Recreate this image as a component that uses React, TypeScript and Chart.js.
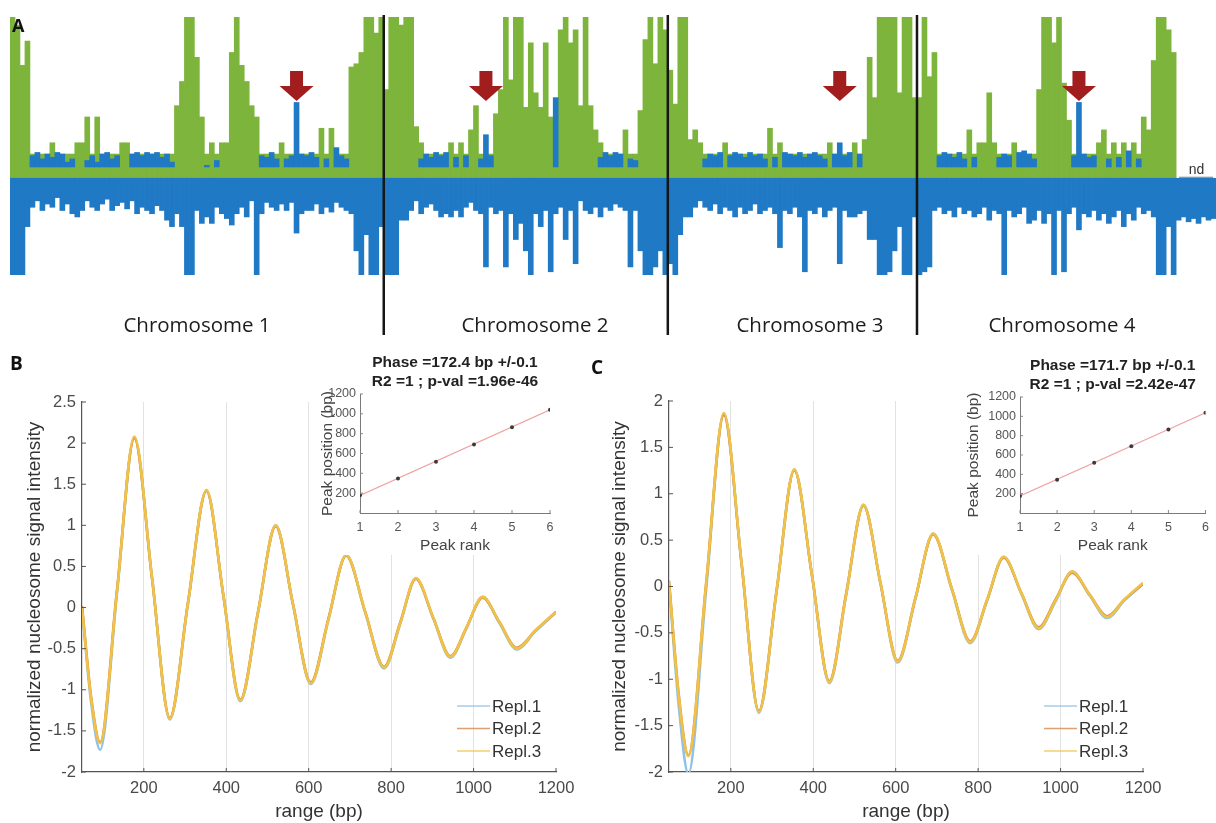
import React, { useEffect, useRef } from "react";
import { Chart, registerables } from "chart.js";

Chart.register(...registerables);

const FONT = "'Liberation Sans', Arial, Helvetica, sans-serif";

// ---------------- Panel A: genome-wide signal (5 bp-pixel bins) ----------------
const chr1Green = [100, 95, 70, 85, 15, 15, 15, 15, 22, 15, 15, 15, 15, 22, 22, 38, 15, 38, 15, 15, 15, 15, 22, 22, 15, 15, 15, 15, 15, 15, 15, 15, 15, 45, 60, 100, 100, 75, 38, 15, 22, 15, 22, 22, 78, 100, 70, 60, 45, 38, 15, 15, 15, 15, 22, 15, 15, 7, 15, 15, 15, 15, 31, 15, 31, 15, 15, 15, 69, 71, 78, 100, 100, 90, 100];
const chr1BlueUp = [0, 0, 0, 0, 14, 16, 12, 15, 13, 16, 15, 10, 12, 0, 0, 11, 14, 10, 15, 16, 12, 14, 0, 0, 15, 16, 14, 16, 15, 16, 13, 15, 10, 0, 0, 0, 0, 0, 0, 8, 0, 11, 0, 0, 0, 0, 0, 0, 0, 0, 14, 13, 16, 12, 0, 12, 14, 47, 15, 14, 16, 13, 0, 12, 0, 19, 14, 12, 0, 0, 0, 0, 0, 0, 0];
const chr1BlueDown = [-60, -60, -60, -30, -18, -14, -20, -16, -18, -12, -20, -16, -22, -24, -20, -14, -18, -20, -16, -13, -20, -17, -15, -19, -14, -22, -18, -20, -22, -17, -20, -26, -30, -22, -30, -60, -60, -20, -28, -24, -28, -18, -22, -25, -29, -22, -18, -24, -14, -60, -22, -15, -18, -20, -16, -20, -15, -34, -22, -20, -20, -16, -22, -18, -21, -15, -18, -20, -22, -45, -60, -35, -60, -60, -30];

const chr2Green = [55, 100, 100, 95, 100, 100, 32, 22, 15, 15, 15, 15, 15, 22, 15, 22, 15, 30, 45, 15, 15, 15, 40, 55, 100, 61, 100, 100, 44, 84, 53, 44, 84, 38, 7, 92, 100, 84, 92, 45, 100, 45, 30, 22, 15, 15, 15, 15, 30, 15, 15, 42, 86, 100, 71, 100, 92];
const chr2BlueUp = [0, 0, 0, 0, 0, 0, 0, 12, 15, 13, 16, 14, 16, 0, 13, 0, 14, 0, 0, 12, 27, 14, 0, 0, 0, 0, 0, 0, 0, 0, 0, 0, 0, 0, 50, 0, 0, 0, 0, 0, 0, 0, 0, 13, 16, 14, 16, 15, 0, 12, 11, 0, 0, 0, 0, 0, 0];
const chr2BlueDown = [-60, -60, -60, -26, -26, -20, -14, -22, -18, -16, -20, -24, -22, -24, -20, -24, -18, -15, -20, -22, -55, -18, -22, -20, -55, -22, -38, -28, -45, -60, -22, -30, -20, -58, -22, -18, -38, -20, -53, -14, -20, -22, -18, -24, -18, -20, -16, -18, -20, -55, -20, -45, -60, -60, -55, -45, -60];

const chr3Green = [67, 46, 100, 100, 24, 30, 22, 15, 15, 15, 15, 22, 15, 15, 15, 15, 15, 15, 15, 15, 31, 15, 22, 15, 15, 15, 15, 15, 15, 15, 15, 15, 22, 15, 15, 15, 15, 22, 15, 24, 75, 50, 100, 100, 100, 100, 53, 100, 100, 50];
const chr3BlueUp = [0, 0, 0, 0, 0, 0, 0, 12, 15, 14, 16, 0, 14, 16, 15, 13, 16, 14, 15, 12, 0, 13, 0, 16, 15, 14, 16, 13, 15, 16, 14, 12, 0, 15, 22, 14, 16, 0, 15, 0, 0, 0, 0, 0, 0, 0, 0, 0, 0, 0];
const chr3BlueDown = [-53, -60, -35, -24, -24, -18, -14, -18, -20, -16, -22, -18, -20, -24, -18, -22, -20, -16, -22, -20, -18, -22, -43, -20, -22, -18, -24, -58, -20, -22, -18, -24, -20, -18, -53, -20, -24, -24, -22, -20, -38, -38, -60, -60, -58, -45, -30, -60, -60, -24];

const chr4Green = [50, 100, 63, 78, 15, 15, 15, 15, 15, 15, 30, 15, 22, 22, 53, 22, 15, 15, 15, 22, 15, 15, 15, 15, 55, 100, 100, 84, 100, 59, 36, 15, 7, 15, 15, 15, 22, 30, 15, 22, 15, 22, 15, 22, 15, 38, 30, 73, 100, 100, 92, 78];
const chr4BlueUp = [0, 0, 0, 0, 14, 16, 15, 13, 16, 12, 0, 13, 0, 0, 0, 0, 13, 15, 14, 0, 16, 17, 15, 12, 0, 0, 0, 0, 0, 0, 0, 14, 47, 15, 13, 14, 0, 0, 12, 0, 13, 0, 17, 0, 12, 0, 0, 0, 0, 0, 0, 0];
const chr4BlueDown = [-60, -58, -55, -20, -18, -22, -20, -24, -18, -22, -20, -24, -22, -18, -26, -20, -22, -60, -20, -24, -22, -18, -28, -26, -20, -28, -22, -60, -20, -58, -22, -18, -32, -22, -24, -20, -26, -22, -28, -24, -20, -30, -22, -26, -18, -22, -20, -24, -60, -60, -30, -60];

const ndBlueDown = [-26, -24, -27, -25, -28, -24, -26, -25];

const chromosomeLabels = ["Chromosome 1", "Chromosome 2", "Chromosome 3", "Chromosome 4"];
const chromosomeLabelCenters = [197, 535, 810, 1062];
const arrowBins = [57, 95, 166, 214];
const BLUE_UP_FLOOR = 7;

// ---------------- Panels B and C: nucleosome phasing ----------------
const seriesLabels = ["Repl.1", "Repl.2", "Repl.3"];
const seriesColors = ["#8fc2e6", "#d6874f", "#f0c348"];

const xB = [50, 72, 94, 135, 177, 220, 263, 307, 352, 393, 434, 477, 520, 562, 605, 648, 691, 737, 783, 822, 860, 902, 944, 983, 1022, 1063, 1105, 1150, 1200];
const replB1 = [0.0, -1.15, -1.73, 0.18, 2.07, 0.36, -1.36, 0.04, 1.42, 0.14, -1.14, -0.07, 1.0, 0.03, -0.93, -0.15, 0.64, -0.06, -0.74, -0.2, 0.35, -0.13, -0.61, -0.25, 0.13, -0.19, -0.51, -0.29, -0.06];
const replB2 = [0.02, -1.08, -1.64, 0.22, 2.06, 0.35, -1.34, 0.06, 1.42, 0.15, -1.12, -0.05, 0.99, 0.04, -0.91, -0.13, 0.63, -0.05, -0.72, -0.18, 0.35, -0.12, -0.59, -0.24, 0.12, -0.18, -0.49, -0.28, -0.05];
const replB3 = [0.0, -1.1, -1.65, 0.2, 2.08, 0.36, -1.35, 0.05, 1.43, 0.15, -1.13, -0.06, 1.0, 0.04, -0.92, -0.14, 0.64, -0.05, -0.73, -0.19, 0.36, -0.12, -0.6, -0.24, 0.13, -0.18, -0.5, -0.28, -0.05];

const xC = [50, 74, 97, 140, 183, 226, 268, 311, 354, 397, 439, 480, 522, 563, 605, 648, 691, 736, 781, 822, 862, 905, 947, 988, 1028, 1071, 1113, 1155, 1200];
const replC1 = [0.03, -1.3, -2.02, -0.04, 1.86, 0.25, -1.36, -0.06, 1.26, 0.11, -1.04, -0.09, 0.88, 0.03, -0.82, -0.13, 0.57, -0.03, -0.61, -0.15, 0.32, -0.08, -0.46, -0.16, 0.16, -0.1, -0.34, -0.15, 0.03];
const replC2 = [0.06, -1.18, -1.82, 0.03, 1.85, 0.25, -1.34, -0.04, 1.25, 0.12, -1.02, -0.07, 0.87, 0.04, -0.8, -0.12, 0.56, -0.02, -0.59, -0.14, 0.31, -0.07, -0.44, -0.14, 0.15, -0.09, -0.32, -0.14, 0.03];
const replC3 = [0.05, -1.2, -1.83, 0.02, 1.87, 0.26, -1.35, -0.05, 1.26, 0.12, -1.03, -0.08, 0.88, 0.04, -0.81, -0.12, 0.57, -0.02, -0.6, -0.14, 0.32, -0.07, -0.45, -0.15, 0.16, -0.09, -0.33, -0.14, 0.04];

const xTicksMain = [200, 400, 600, 800, 1000, 1200];
const yTicksB = [-2, -1.5, -1, -0.5, 0, 0.5, 1, 1.5, 2, 2.5];
const yTicksC = [-2, -1.5, -1, -0.5, 0, 0.5, 1, 1.5, 2];

// insets
const peakRanks = [1, 2, 3, 4, 5, 6];
const peakPosB = [180, 348, 518, 690, 865, 1040];
const peakPosC = [175, 345, 520, 690, 865, 1038];
const fitRanks = [1, 6];
const fitB = [178, 1040];
const fitC = [176, 1037];
const insetYTicks = [200, 400, 600, 800, 1000, 1200];
const insetTitleB = ["Phase =172.4 bp +/-0.1", "R2 =1 ; p-val =1.96e-46"];
const insetTitleC = ["Phase =171.7 bp +/-0.1", "R2 =1 ; p-val =2.42e-47"];

// ---------------- assembled panel A arrays ----------------
const chrGreen = [chr1Green, chr2Green, chr3Green, chr4Green];
const greenA: (number | null)[] = [...chr1Green, ...chr2Green, ...chr3Green, ...chr4Green, ...ndBlueDown.map(() => null)];
const blueUpA: number[] = [...chr1BlueUp, ...chr2BlueUp, ...chr3BlueUp, ...chr4BlueUp, ...ndBlueDown.map(() => 0)];
const blueDownA: number[] = [...chr1BlueDown, ...chr2BlueDown, ...chr3BlueDown, ...chr4BlueDown, ...ndBlueDown];
const boundaries: number[] = [];
{
  let acc = 0;
  for (const g of chrGreen) {
    acc += g.length;
    boundaries.push(acc);
  }
}

const GREEN = "#7db43b";
const BLUE = "#1f79c4";

function strokeLine(ctx: CanvasRenderingContext2D, x1: number, y1: number, x2: number, y2: number) {
  ctx.beginPath();
  ctx.moveTo(x1, y1);
  ctx.lineTo(x2, y2);
  ctx.stroke();
}

const panelAPlugin = {
  id: "panelA",
  afterDatasetsDraw(chart: any) {
    const { ctx } = chart;
    const xs = chart.scales.x;
    const ys = chart.scales.y;
    const edge = (b: number) => (xs.getPixelForValue(b - 1) + xs.getPixelForValue(b)) / 2;
    ctx.save();
    // nd region
    const ndStart = edge(boundaries[3]);
    const ndEnd = chart.chartArea.right - 3;
    const y0 = ys.getPixelForValue(0);
    ctx.strokeStyle = "#777";
    ctx.lineWidth = 1;
    strokeLine(ctx, ndStart + 3, y0 - 1, ndEnd, y0 - 1);
    ctx.fillStyle = "#333";
    ctx.font = `14px ${FONT}`;
    ctx.textAlign = "center";
    ctx.textBaseline = "alphabetic";
    ctx.fillText("nd", (ndStart + ndEnd) / 2 + 2, y0 - 4);
    // chromosome dividers
    ctx.strokeStyle = "#161616";
    ctx.lineWidth = 2.5;
    for (const b of boundaries.slice(0, 3)) {
      const x = edge(b);
      strokeLine(ctx, x, 15, x, 335);
    }
    // arrows
    ctx.fillStyle = "#a21d1d";
    for (const b of arrowBins) {
      const cx = xs.getPixelForValue(b);
      ctx.fillRect(cx - 6.5, 71, 13, 16);
      ctx.beginPath();
      ctx.moveTo(cx - 17, 86);
      ctx.lineTo(cx + 17, 86);
      ctx.lineTo(cx, 101);
      ctx.closePath();
      ctx.fill();
    }
    ctx.restore();
  },
};

const replLegendPlugin = {
  id: "replLegend",
  afterDraw(chart: any, _args: any, opts: any) {
    if (!opts || !opts.show) return;
    const { ctx, chartArea } = chart;
    const x0 = chartArea.right - opts.fromRight;
    ctx.save();
    chart.data.datasets.forEach((ds: any, i: number) => {
      const y = chartArea.bottom - opts.rowsFromBottom[i];
      ctx.strokeStyle = ds.borderColor;
      ctx.globalAlpha = 0.8;
      ctx.lineWidth = 1.6;
      strokeLine(ctx, x0, y, x0 + 33, y);
      ctx.globalAlpha = 1;
      ctx.fillStyle = "#333";
      ctx.font = `17px ${FONT}`;
      ctx.textAlign = "left";
      ctx.textBaseline = "middle";
      ctx.fillText(ds.label, x0 + 35, y + 1);
    });
    ctx.restore();
  },
};

const inwardTicksPlugin = {
  id: "inwardTicks",
  afterDraw(chart: any, _args: any, opts: any) {
    if (!opts || !opts.show) return;
    const { ctx, chartArea } = chart;
    const len = opts.len;
    ctx.save();
    ctx.strokeStyle = opts.color;
    ctx.lineWidth = 1;
    const xs = chart.scales.x;
    const ys = chart.scales.y;
    xs.ticks.forEach((t: any) => {
      const px = xs.getPixelForValue(t.value);
      strokeLine(ctx, px, chartArea.bottom, px, chartArea.bottom - len);
    });
    ys.ticks.forEach((t: any) => {
      const py = ys.getPixelForValue(t.value);
      strokeLine(ctx, chartArea.left, py, chartArea.left + len, py);
    });
    ctx.restore();
  },
};

const insetTitlePlugin = {
  id: "insetTitle",
  beforeDraw(chart: any) {
    const { ctx } = chart;
    ctx.save();
    ctx.fillStyle = "#ffffff";
    ctx.fillRect(0, 0, chart.width, chart.height);
    ctx.restore();
  },
  afterDraw(chart: any, _args: any, opts: any) {
    if (!opts || !opts.lines) return;
    const { ctx, chartArea } = chart;
    const cx = (chartArea.left + chartArea.right) / 2;
    ctx.save();
    ctx.fillStyle = "#222";
    ctx.font = `bold 15.5px ${FONT}`;
    ctx.textAlign = "center";
    ctx.textBaseline = "middle";
    ctx.fillText(opts.lines[0], cx, chartArea.top - 31);
    ctx.fillText(opts.lines[1], cx, chartArea.top - 12);
    ctx.restore();
  },
};

type Geom = { yAxisW: number; xAxisH: number; padTop: number; padRight: number; yTitlePad: number };

function makeMain(canvas: HTMLCanvasElement, xs: number[], r1: number[], r2: number[], r3: number[], yMin: number, yMax: number, yTicks: number[], g: Geom) {
  const reps = [r1, r2, r3];
  return new Chart(canvas, {
    type: "line",
    data: {
      datasets: reps.map((r, i) => ({
        label: seriesLabels[i],
        data: xs.map((x, k) => ({ x, y: r[k] })),
        borderColor: seriesColors[i],
        borderWidth: 2.6,
        pointRadius: 0,
        cubicInterpolationMode: "monotone" as const,
        order: 3 - i,
        fill: false,
      })),
    },
    options: {
      animation: false,
      responsive: false,
      events: [],
      layout: { padding: { left: 0, top: g.padTop, right: g.padRight, bottom: 0 } },
      scales: {
        x: {
          type: "linear",
          min: 50,
          max: 1200,
          afterBuildTicks: (s: any) => {
            s.ticks = xTicksMain.map((v) => ({ value: v }));
          },
          afterFit: (s: any) => {
            s.height = g.xAxisH;
          },
          grid: {
            display: true,
            drawTicks: false,
            color: (c: any) => (c.tick && c.tick.value === 1200 ? "rgba(0,0,0,0)" : "#e2e2e2"),
            lineWidth: 1,
          },
          border: { display: true, color: "#555", width: 1.2 },
          ticks: {
            padding: 7,
            color: "#4a4a4a",
            font: { family: FONT, size: 16.5 },
            maxRotation: 0,
            autoSkip: false,
            callback: (v: any) => String(v),
          },
          title: {
            display: true,
            text: "range (bp)",
            color: "#333",
            font: { family: FONT, size: 19 },
            padding: { top: 0, bottom: 0 },
          },
        },
        y: {
          type: "linear",
          min: yMin,
          max: yMax,
          afterBuildTicks: (s: any) => {
            s.ticks = yTicks.map((v) => ({ value: v }));
          },
          afterFit: (s: any) => {
            s.width = g.yAxisW;
          },
          grid: { display: false, drawTicks: false },
          border: { display: true, color: "#555", width: 1.2 },
          ticks: {
            padding: 6,
            color: "#4a4a4a",
            font: { family: FONT, size: 16.5 },
            autoSkip: false,
            callback: (v: any) => String(v),
          },
          title: {
            display: true,
            text: "normalized nucleosome signal intensity",
            color: "#333",
            font: { family: FONT, size: 19 },
            padding: { top: g.yTitlePad, bottom: 0 },
          },
        },
      },
      plugins: {
        legend: { display: false },
        tooltip: { enabled: false },
        replLegend: { show: true, fromRight: 99, rowsFromBottom: [66, 43.5, 21] },
        inwardTicks: { show: true, len: 4, color: "#555" },
      } as any,
    },
    plugins: [replLegendPlugin, inwardTicksPlugin],
  });
}

function makeInset(canvas: HTMLCanvasElement, peaks: number[], fit: number[], title: string[], g: Geom) {
  return new Chart(canvas, {
    type: "scatter",
    data: {
      datasets: [
        {
          type: "line",
          label: "fit",
          data: fitRanks.map((r, i) => ({ x: r, y: fit[i] })),
          borderColor: "#f1a2a2",
          borderWidth: 1.2,
          pointRadius: 0,
          order: 2,
        } as any,
        {
          type: "scatter",
          label: "peaks",
          data: peakRanks.map((r, i) => ({ x: r, y: peaks[i] })),
          pointRadius: 2,
          backgroundColor: "#3a3a3a",
          borderWidth: 0,
          order: 1,
        },
      ],
    },
    options: {
      animation: false,
      responsive: false,
      events: [],
      layout: { padding: { left: 0, top: g.padTop, right: g.padRight, bottom: 0 } },
      scales: {
        x: {
          type: "linear",
          min: 1,
          max: 6,
          afterBuildTicks: (s: any) => {
            s.ticks = peakRanks.map((v) => ({ value: v }));
          },
          afterFit: (s: any) => {
            s.height = g.xAxisH;
          },
          grid: { display: false, drawTicks: false },
          border: { display: true, color: "#7a7a7a", width: 1 },
          ticks: { padding: 7, color: "#555", font: { family: FONT, size: 12.5 }, maxRotation: 0, autoSkip: false, callback: (v: any) => String(v) },
          title: { display: true, text: "Peak rank", color: "#444", font: { family: FONT, size: 15.5 }, padding: { top: 0, bottom: 0 } },
        },
        y: {
          type: "linear",
          min: 0,
          max: 1200,
          afterBuildTicks: (s: any) => {
            s.ticks = insetYTicks.map((v) => ({ value: v }));
          },
          afterFit: (s: any) => {
            s.width = g.yAxisW;
          },
          grid: { display: false, drawTicks: false },
          border: { display: true, color: "#7a7a7a", width: 1 },
          ticks: { padding: 4, color: "#555", font: { family: FONT, size: 12.5 }, autoSkip: false, callback: (v: any) => String(v) },
          title: { display: true, text: "Peak position (bp)", color: "#444", font: { family: FONT, size: 15.5 }, padding: { top: g.yTitlePad, bottom: 0 } },
        },
      },
      plugins: {
        legend: { display: false },
        tooltip: { enabled: false },
        insetTitle: { lines: title },
        inwardTicks: { show: true, len: 3, color: "#888" },
      } as any,
    },
    plugins: [insetTitlePlugin, inwardTicksPlugin],
  });
}

function makePanelA(canvas: HTMLCanvasElement) {
  const labels = greenA.map((_, i) => String(i));
  return new Chart(canvas, {
    type: "bar",
    data: {
      labels,
      datasets: [
        {
          label: "upper signal (blue)",
          data: blueUpA.map((v) => (v > 0 ? [BLUE_UP_FLOOR, v] : null)) as any,
          backgroundColor: BLUE,
          order: 1,
        },
        {
          label: "lower signal",
          data: blueDownA,
          backgroundColor: BLUE,
          order: 2,
        },
        {
          label: "upper signal (green)",
          data: greenA as any,
          backgroundColor: GREEN,
          order: 3,
        },
      ],
    },
    options: {
      animation: false,
      responsive: false,
      events: [],
      datasets: { bar: { barPercentage: 1, categoryPercentage: 1, grouped: false, borderWidth: 0 } } as any,
      layout: { padding: { left: 10, right: 0, top: 17, bottom: 65 } },
      scales: {
        x: { display: false },
        y: { display: false, min: -60, max: 100 },
      },
      plugins: { legend: { display: false }, tooltip: { enabled: false } },
    },
    plugins: [panelAPlugin],
  });
}

function ChartCanvas(props: { left: number; top: number; width: number; height: number; make: (c: HTMLCanvasElement) => Chart }) {
  const ref = useRef<HTMLCanvasElement>(null);
  useEffect(() => {
    if (!ref.current) return;
    const chart = props.make(ref.current);
    return () => chart.destroy();
  }, []);
  return (
    <canvas
      ref={ref}
      width={props.width}
      height={props.height}
      style={{ position: "absolute", left: props.left, top: props.top, width: props.width, height: props.height, display: "block" }}
    />
  );
}

const letterStyle: React.CSSProperties = {
  position: "absolute",
  fontFamily: "'Open Sans', 'Liberation Sans', Arial, sans-serif",
  fontWeight: 700,
  fontSize: 19,
  lineHeight: "20px",
  color: "#111",
};

export default function App() {
  return (
    <div style={{ position: "absolute", left: 0, top: 0, width: 1216, height: 823, background: "#fff", overflow: "hidden" }}>
      <ChartCanvas left={0} top={0} width={1216} height={340} make={makePanelA} />
      {chromosomeLabels.map((t, i) => (
        <div
          key={t}
          style={{
            position: "absolute",
            left: chromosomeLabelCenters[i] - 110,
            top: 311,
            width: 220,
            textAlign: "center",
            fontFamily: "'Open Sans', sans-serif",
            fontSize: 20.5,
            lineHeight: "26px",
            color: "#1c1c1c",
          }}
        >
          {t}
        </div>
      ))}
      <div style={{ ...letterStyle, left: 12, top: 15, fontSize: 18 }}>A</div>

      <ChartCanvas
        left={0}
        top={330}
        width={600}
        height={493}
        make={(c) => makeMain(c, xB, replB1, replB2, replB3, -2, 2.5, yTicksB, { yAxisW: 82, xAxisH: 51, padTop: 72, padRight: 44, yTitlePad: 23 })}
      />
      <ChartCanvas
        left={600}
        top={330}
        width={616}
        height={493}
        make={(c) => makeMain(c, xC, replC1, replC2, replC3, -2, 2, yTicksC, { yAxisW: 69, xAxisH: 51, padTop: 71, padRight: 73, yTitlePad: 8 })}
      />
      <ChartCanvas
        left={314}
        top={340}
        width={250}
        height={215}
        make={(c) => makeInset(c, peakPosB, fitB, insetTitleB, { yAxisW: 46, xAxisH: 42, padTop: 54, padRight: 14, yTitlePad: 4 })}
      />
      <ChartCanvas
        left={950}
        top={340}
        width={266}
        height={215}
        make={(c) => makeInset(c, peakPosC, fitC, insetTitleC, { yAxisW: 70, xAxisH: 42, padTop: 57, padRight: 9, yTitlePad: 14 })}
      />
      <div style={{ ...letterStyle, left: 10, top: 353 }}>B</div>
      <div style={{ ...letterStyle, left: 591, top: 357 }}>C</div>
    </div>
  );
}
